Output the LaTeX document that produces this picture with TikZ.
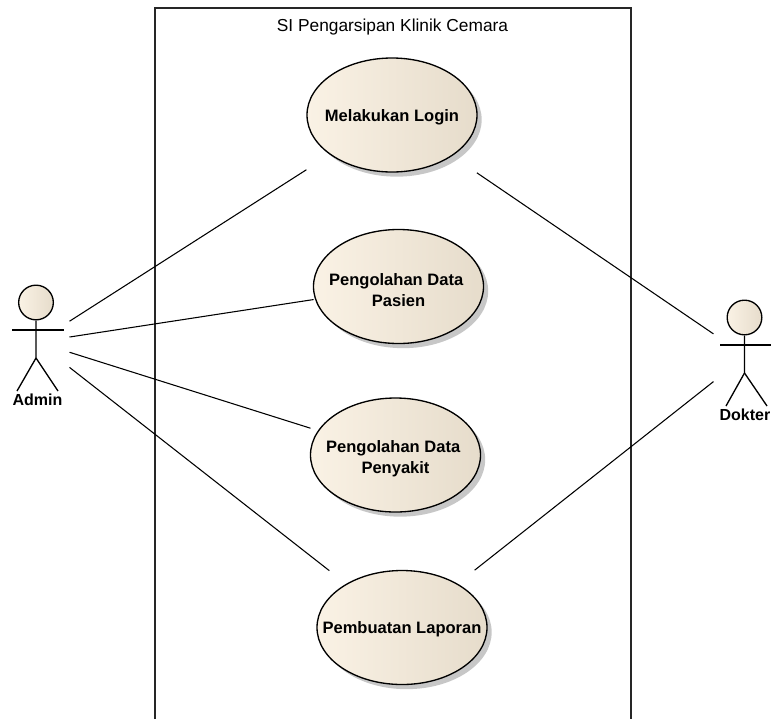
\documentclass[tikz,border=0pt]{standalone}
\usepackage{fontspec}
\setmainfont{Liberation Sans}
\usetikzlibrary{shapes.geometric,shadows}
\definecolor{ucleft}{HTML}{FAF2E5}
\definecolor{ucright}{HTML}{E6DCCB}

\begin{document}
\begin{tikzpicture}[x = 0.75pt, y = -0.75pt, line width = 0.8pt,
                        usecase/.style = {ellipse, draw = black, line width = 1pt, left color = ucleft, middle color = ucleft, right color = ucright,
                                          minimum width = 127.5pt, minimum height = 85.5pt, inner xsep = -20pt, inner ysep = 0pt, align = center,
                                          font = \fontsize{12.4}{15.75}\selectfont\bfseries,
                                          execute at begin node = \rule{0pt}{12pt},
                                          general shadow = {fill = black!22, shadow xshift = 3.5pt, shadow yshift = -3.5pt}},
                        head/.style = {circle, draw = black, line width = 1pt, left color = ucleft, middle color = ucleft, right color = ucright,
                                       minimum size = 26pt, inner sep = 0pt},
                        actor/.style = {rectangle, minimum width = 48pt, minimum height = 90pt, inner sep = 0pt},
                        actorname/.style = {inner sep = 0pt, font = \fontsize{12}{14}\selectfont\bfseries},
                        limb/.style = {line width = 1pt}]
      \useasboundingbox (0, 0) rectangle (771, 719);
      % system boundary, open at the bottom
      \coordinate (sysa) at (155, 719);
      \coordinate (sysb) at (155, 8);
      \coordinate (sysc) at (631, 8);
      \coordinate (sysd) at (631, 719);
      \draw [line width = 1pt, black!85] (sysa) -- (sysb) -- (sysc) -- (sysd);
      \node [inner sep = 0pt, font = \fontsize{13}{15}\selectfont] (title) at (392.5, 27){SI Pengarsipan Klinik Cemara};
      % use cases
      \node [usecase] (login) at (392, 115){Melakukan Login};
      \node [usecase] (pasien) at (398.5, 286.5){\rule{0pt}{15pt}Pengolahan Data\hspace*{3.5pt}\\Pasien};
      \node [usecase] (penyakit) at (395.5, 455){\rule{0pt}{15pt}Pengolahan Data\hspace*{3.5pt}\\Penyakit};
      \node [usecase] (laporan) at (402, 627.5){Pembuatan Laporan};
      % admin
      \node [actor] (admin) at (37, 342){};
      \node [head] (adminhead) at (36, 302.5){};
      \coordinate (adminhip) at (36, 358);
      \coordinate (adminarml) at (12, 330);
      \coordinate (adminarmr) at (63.5, 330);
      \coordinate (adminlegl) at (17, 391);
      \coordinate (adminlegr) at (58, 391);
      \draw [limb] (adminhead) -- (adminhip) -- (adminlegl);
      \draw [limb] (adminhip) -- (adminlegr);
      \draw [limb] (adminarml) -- (adminarmr);
      \node [actorname] (adminname) at (37.5, 400){Admin};
      % dokter
      \node [actor] (dokter) at (746, 356){};
      \node [head] (dokterhead) at (744.5, 317.5){};
      \coordinate (dokterhip) at (744.5, 373);
      \coordinate (dokterarml) at (720, 345);
      \coordinate (dokterarmr) at (771, 345);
      \coordinate (dokterlegl) at (726, 406);
      \coordinate (dokterlegr) at (767, 406);
      \draw [limb] (dokterhead) -- (dokterhip) -- (dokterlegl);
      \draw [limb] (dokterhip) -- (dokterlegr);
      \draw [limb] (dokterarml) -- (dokterarmr);
      \node [actorname] (doktername) at (745, 415){Dokter};
      % connectors
      \draw [shorten >= 20.9pt] (admin) -- (login);
      \draw [shorten >= 1pt] (admin) -- (pasien);
      \draw [shorten >= 5.8pt] (admin) -- (penyakit);
      \draw [shorten >= 16pt] (admin) -- (laporan);
      \draw [shorten >= 22.4pt] (dokter) -- (login);
      \draw [shorten >= 16.3pt] (dokter) -- (laporan);
    \end{tikzpicture}
\end{document}
